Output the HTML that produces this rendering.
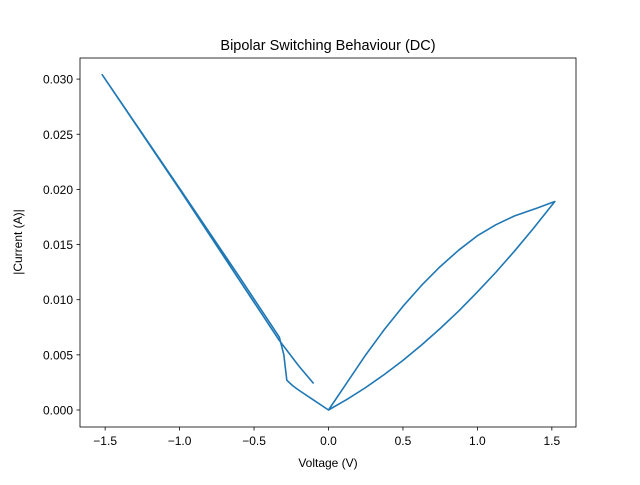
<!DOCTYPE html>
<html><head><meta charset="utf-8"><style>
body{margin:0;background:#fff}
svg{font-family:"Liberation Sans","DejaVu Sans",sans-serif}
</style></head><body>
<svg id="chart" width="640" height="480">
<rect x="0" y="0" width="640" height="480" fill="#fff"/>
<text x="328" y="50" text-anchor="middle" font-size="14.5">Bipolar Switching Behaviour (DC)</text>
<text x="328" y="467" text-anchor="middle" font-size="12">Voltage (V)</text>
<text transform="translate(22,242) rotate(-90)" text-anchor="middle" font-size="12">|Current (A)|</text>
<g id="ticks"></g>
<polyline id="line" fill="none" stroke="#1f77b4" stroke-width="1.6" stroke-linejoin="round"/>
<rect x="80" y="58" width="496" height="369" fill="none" stroke="#000" stroke-width="0.8"/>
</svg>
<script>
const voltage = [0,0.125,0.25,0.375,0.5,0.625,0.75,0.875,1.0,1.125,1.25,1.375,1.52,1.4,1.25,1.125,1.0,0.875,0.75,0.625,0.5,0.375,0.25,0.125,0,-0.1,-0.2,-0.24,-0.28,-0.3,-0.33,-0.6,-1.0,-1.52,-1.0,-0.6,-0.33,-0.2,-0.1];
const current = [0,0.00097,0.00204,0.00322,0.0045,0.00589,0.00739,0.00898,0.0107,0.0125,0.01442,0.01644,0.0189,0.0183,0.0176,0.0168,0.0158,0.0145,0.0130,0.0113,0.0094,0.0073,0.0050,0.0025,0,0.0009,0.0018,0.0022,0.0027,0.0050,0.0066,0.0121,0.0201,0.0304,0.0200,0.0118,0.0063,0.0040,0.0024];
const xTicks = [-1.5,-1.0,-0.5,0.0,0.5,1.0,1.5];
const yTicks = [0,0.005,0.010,0.015,0.020,0.025,0.030];
const xs = v => 328.5 + v*148.9;
const ys = c => 410 - c*11030;
const ns = 'http://www.w3.org/2000/svg';
const g = document.getElementById('ticks');
xTicks.forEach(t=>{
  const l=document.createElementNS(ns,'line');
  l.setAttribute('x1',xs(t));l.setAttribute('x2',xs(t));l.setAttribute('y1',427);l.setAttribute('y2',430.5);l.setAttribute('stroke','#000');l.setAttribute('stroke-width','0.8');
  
  
  g.appendChild(l);
  const tx=document.createElementNS(ns,'text');
  tx.setAttribute('x',xs(t));tx.setAttribute('y',445);tx.setAttribute('text-anchor','middle');tx.setAttribute('font-size','12');
  tx.textContent=(t<0?'\u2212':'')+Math.abs(t).toFixed(1);
  
  
  g.appendChild(tx);
});
yTicks.forEach(t=>{
  const l=document.createElementNS(ns,'line');
  l.setAttribute('x1',76.5);l.setAttribute('x2',80);l.setAttribute('y1',ys(t));l.setAttribute('y2',ys(t));l.setAttribute('stroke','#000');l.setAttribute('stroke-width','0.8');
  
  
  g.appendChild(l);
  const tx=document.createElementNS(ns,'text');
  tx.setAttribute('x',73);tx.setAttribute('y',ys(t)+4.5);tx.setAttribute('text-anchor','end');tx.setAttribute('font-size','12');
  tx.textContent=t.toFixed(3);
  
  
  g.appendChild(tx);
});
document.getElementById('line').setAttribute('points', voltage.map((v,i)=>xs(v)+','+ys(current[i])).join(' '));
</script>
</body></html>
